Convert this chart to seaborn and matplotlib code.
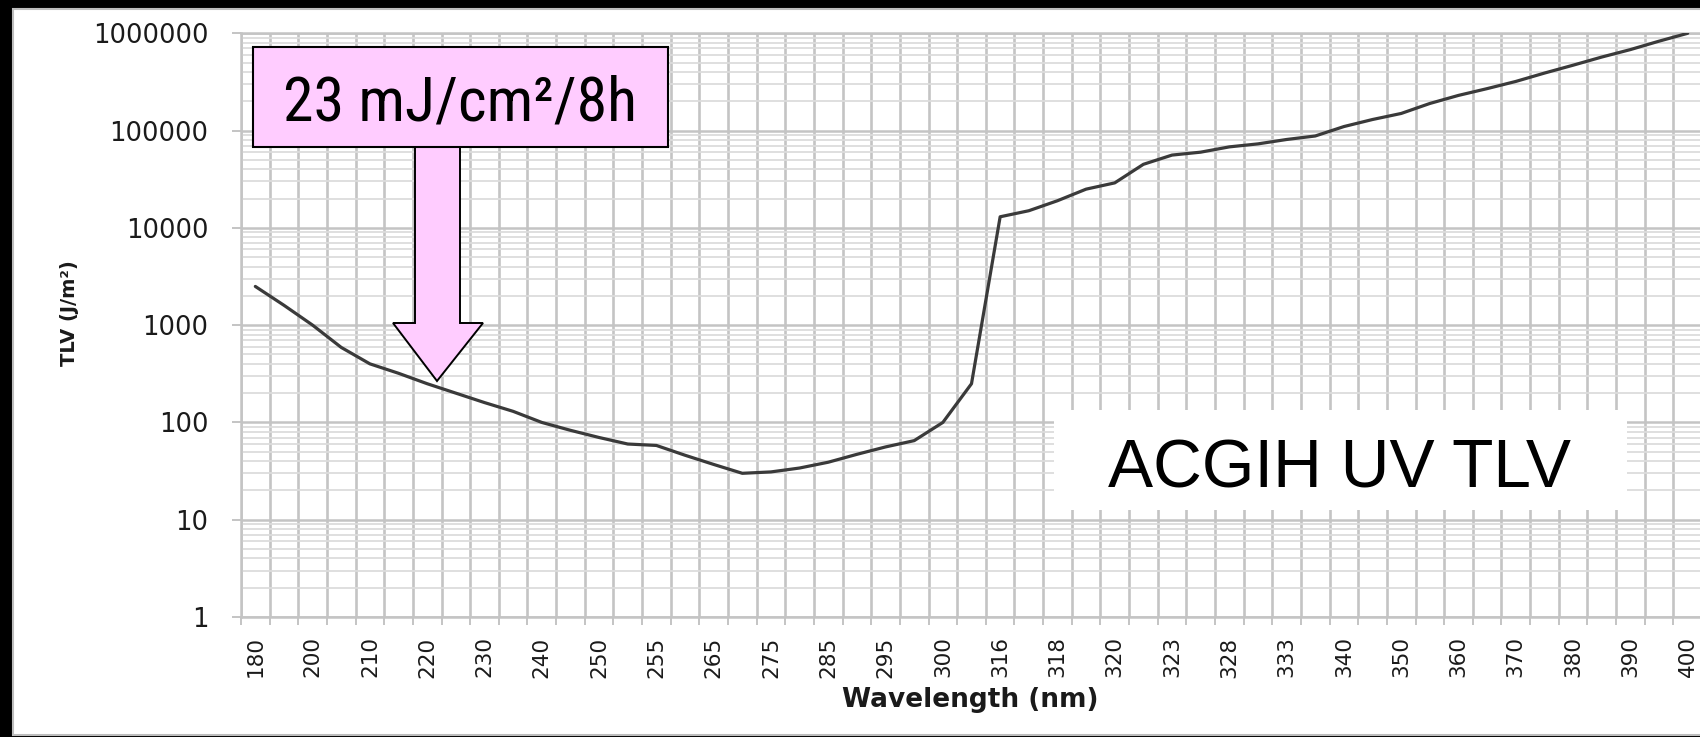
import matplotlib
matplotlib.use("Agg")
import matplotlib.pyplot as plt
from matplotlib import font_manager
import seaborn as sns
import numpy as np
import pandas as pd
from matplotlib.patches import Rectangle, Polygon
from matplotlib.ticker import LogLocator, NullFormatter

# ---------------- data ----------------
wavelengths = [180, 190, 200, 205, 210, 215, 220, 225, 230, 235, 240, 245, 250, 254, 255,
               260, 265, 270, 275, 280, 285, 290, 295, 297, 300, 303, 316, 317, 318, 319,
               320, 322, 323, 325, 328, 330, 333, 335, 340, 345, 350, 355, 360, 365, 370,
               375, 380, 385, 390, 395, 400]
tlv = [2500, 1600, 1000, 590, 400, 320, 250, 200, 160, 130, 100, 83, 70, 60, 58,
       46, 37, 30, 31, 34, 39, 47, 56, 65, 100, 250, 13000, 15000, 19000, 25000,
       29000, 45000, 56000, 60000, 68000, 73000, 81000, 88000, 110000, 130000, 150000, 190000, 230000, 270000, 320000,
       390000, 470000, 570000, 680000, 830000, 1000000]
x_tick_labels = [str(w) for w in wavelengths[::2]]
y_ticks = [1, 10, 100, 1000, 10000, 100000, 1000000]
y_tick_labels = ["1", "10", "100", "1000", "10000", "100000", "1000000"]

# ---------------- layout helpers ----------------
W, H = 1700, 737
def fx(x): return x / W
def fy(y): return 1 - y / H
def rect_px(x0, y0, x1, y1, **kw):
    return Rectangle((fx(x0), fy(y1)), fx(x1) - fx(x0), fy(y0) - fy(y1), **kw)

sns.set_style("white")
plt.rcParams["font.family"] = ["DejaVu Sans"]

installed = {f.name for f in font_manager.fontManager.ttflist}
note_family = ["Liberation Sans", "DejaVu Sans"]
for cand in ["Liberation Sans Narrow", "Arial Narrow", "Roboto Condensed",
             "Open Sans Condensed", "Noto Sans Condensed", "DejaVu Sans Condensed"]:
    if cand in installed:
        note_family = [cand, "DejaVu Sans"]
        break

fig = plt.figure(figsize=(W / 100, H / 100), dpi=100, facecolor="black")
fig.add_artist(rect_px(13, 9, 1760, 735, transform=fig.transFigure, facecolor="white",
                       edgecolor="#bdbdbd", lw=1.5, zorder=-5))

ax = fig.add_axes([fx(241), fy(617), fx(1702) - fx(241), fy(33.3) - fy(617)])
ax.set_facecolor("white")

n = len(wavelengths)
df = pd.DataFrame({"pos": np.arange(n), "tlv": tlv})
sns.lineplot(data=df, x="pos", y="tlv", ax=ax, color="#3a3a3a", lw=2.3, zorder=3)

ax.set_yscale("log")
ax.set_ylim(1, 1e6)
ax.set_xlim(-0.5, n - 0.5)

ax.set_yticks(y_ticks)
ax.set_yticklabels(y_tick_labels)
ax.yaxis.set_minor_locator(LogLocator(base=10, subs=np.arange(2, 10)))
ax.yaxis.set_minor_formatter(NullFormatter())

ax.set_xticks(np.arange(0, n, 2))
ax.set_xticklabels(x_tick_labels, rotation=90)
ax.set_xticks(np.arange(-0.5, n, 1), minor=True)

gc = "#c4c4c4"
ax.grid(which="major", axis="y", color=gc, lw=1.8)
ax.grid(which="minor", axis="y", color="#dcdcdc", lw=1.3)
ax.grid(which="minor", axis="x", color=gc, lw=1.9)
ax.grid(False, which="major", axis="x")
ax.set_axisbelow(True)

for s in ["left", "bottom", "top"]:
    ax.spines[s].set_visible(True)
    ax.spines[s].set_color(gc)
    ax.spines[s].set_linewidth(1.8)
ax.spines["right"].set_visible(False)

ax.tick_params(axis="y", which="major", length=6.5, width=1.3, color="#bfbfbf",
               pad=17, labelsize=18.5, labelcolor="#1a1a1a", left=True)
ax.tick_params(axis="y", which="minor", length=0)
ax.tick_params(axis="x", which="major", length=0, pad=14, labelsize=15.5,
               labelcolor="#1a1a1a", bottom=True)
ax.tick_params(axis="x", which="minor", length=5.8, width=1.3, color="#bfbfbf", bottom=True)

ax_h = 617 - 33.3
ax_w = 1702 - 241
ax.set_xlabel("Wavelength (nm)", fontsize=19, fontweight="bold", color="#1a1a1a")
ax.xaxis.set_label_coords((970 - 241) / ax_w, -(700 - 617) / ax_h)
ax.xaxis.label.set_va("center")
ax.set_ylabel("TLV (J/m²)", fontsize=14, fontweight="bold", color="#1a1a1a")
ax.yaxis.set_label_coords((69.5 - 241) / ax_w, (617 - 313) / ax_h)
ax.yaxis.label.set_va("center")

# ---------------- annotations ----------------
pink = "#FFCCFF"
arrow_px = [(415, 147), (460, 147), (460, 323), (483, 323), (437, 381), (393, 323), (415, 323)]
fig.add_artist(Polygon([(fx(x), fy(y)) for x, y in arrow_px], closed=True,
                       transform=fig.transFigure, facecolor=pink, edgecolor="black",
                       lw=1.4, zorder=5))
fig.add_artist(rect_px(253, 47, 668, 147, transform=fig.transFigure, facecolor=pink,
                       edgecolor="black", lw=1.5, zorder=6))
note = fig.text(fx(460), fy(121), "23 mJ/cm²/8h", ha="center", va="baseline",
                fontsize=43, family=note_family, color="black", zorder=7)

fig.add_artist(rect_px(1054, 410, 1627, 510, transform=fig.transFigure, facecolor="white",
                       edgecolor="none", zorder=5))
fig.text(fx(1340), fy(488), "ACGIH UV TLV", ha="center", va="baseline",
         fontsize=48.7, family=["Liberation Sans", "DejaVu Sans"], color="black", zorder=7)

# fit the note text to its measured width in the reference (~355 px), capped in height
renderer = fig.canvas.get_renderer()
wpx = note.get_window_extent(renderer).width
if wpx > 0:
    note.set_fontsize(min(52, 43 * 355 / wpx))

fig.savefig("out.png", dpi=100, facecolor=fig.get_facecolor())
